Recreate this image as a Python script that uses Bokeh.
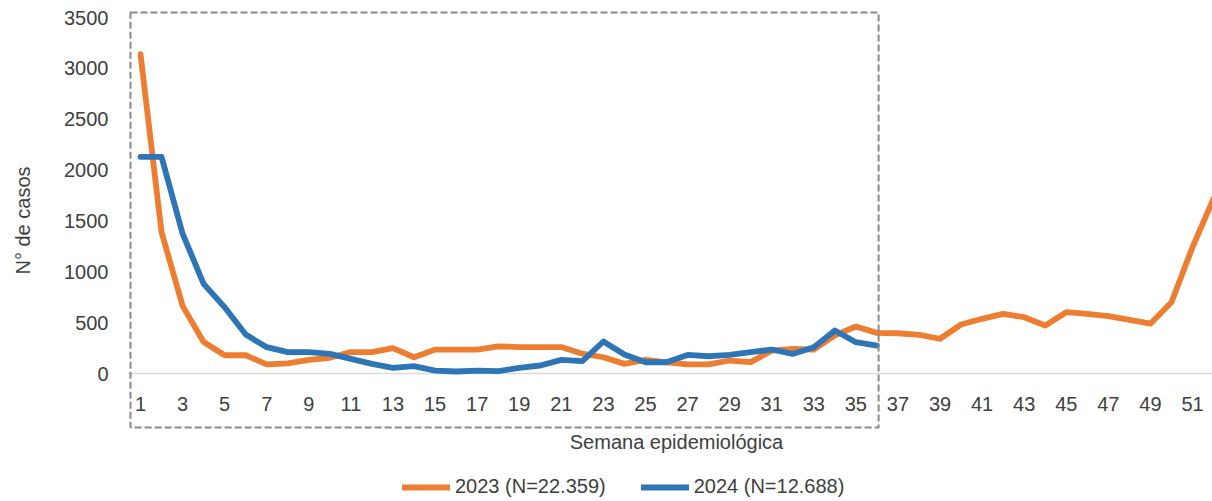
from bokeh.plotting import figure
from bokeh.layouts import column
from bokeh.models import (Range1d, FixedTicker, Legend, LegendItem, Span,
                          BoxAnnotation, Label)
from bokeh.core.properties import value
from bokeh.embed import file_html
from bokeh.resources import INLINE

weeks_2023 = list(range(1, 53))
cases_2023 = [3140, 1390, 665, 310, 180, 180, 90, 100, 135, 155, 210, 210, 250,
              160, 235, 235, 235, 268, 260, 260, 260, 195, 160, 95, 135, 110,
              90, 90, 128, 112, 225, 243, 235, 375, 462, 400, 396, 380, 342,
              482, 538, 587, 554, 472, 603, 587, 564, 528, 490, 701, 1242, 1720]
weeks_2024 = list(range(1, 37))
cases_2024 = [2130, 2130, 1375, 882, 652, 383, 259, 210, 210, 193, 144, 95, 56,
              72, 29, 20, 29, 23, 56, 79, 134, 121, 315, 187, 111, 111, 183,
              170, 183, 210, 236, 193, 259, 423, 308, 275]
label_2023 = "2023 (N=22.359)"
label_2024 = "2024 (N=12.688)"
y_ticks = [0, 500, 1000, 1500, 2000, 2500, 3000, 3500]
x_ticks = list(range(1, 53, 2))
x_title = "Semana epidemiológica"
y_title = "N° de casos"

FONT = "Liberation Sans"
TXT = "#404040"
ORANGE = "#ED7D31"
BLUE = "#2E75B6"
LEFT = 127
LW = 5.8

# ---------------- main chart ----------------
p = figure(width=1212, height=430, output_backend="svg", toolbar_location=None,
           x_range=Range1d(0.382, 51.95), y_range=Range1d(-560, 3569),
           min_border_left=LEFT, min_border_right=0, min_border_top=10,
           min_border_bottom=0)
p.outline_line_color = None
p.xgrid.visible = False
p.ygrid.visible = False
p.xaxis.visible = False

# zero baseline
p.add_layout(Span(location=0, dimension="width", line_color="#d9d9d9",
                  line_width=1.5, level="underlay"))

r1 = p.line(weeks_2023, cases_2023, line_color=ORANGE, line_width=LW,
            line_join="round", line_cap="round")
r2 = p.line(weeks_2024, cases_2024, line_color=BLUE, line_width=LW,
            line_join="round", line_cap="round")

# week labels under the zero line
p.text(x=x_ticks, y=[0] * len(x_ticks), text=[str(t) for t in x_ticks],
       y_offset=30, text_align="center", text_baseline="middle",
       text_font=value(FONT), text_font_size="20px", text_color=TXT)

# y axis
p.yaxis.ticker = FixedTicker(ticks=y_ticks)
p.yaxis.axis_line_color = None
p.yaxis.major_tick_line_color = None
p.yaxis.minor_tick_line_color = None
p.yaxis.major_label_standoff = 13
p.yaxis.major_label_text_font = FONT
p.yaxis.major_label_text_font_size = "20px"
p.yaxis.major_label_text_color = TXT
p.yaxis.axis_label = y_title
p.yaxis.axis_label_standoff = 27
p.yaxis.axis_label_text_font = FONT
p.yaxis.axis_label_text_font_size = "20px"
p.yaxis.axis_label_text_font_style = "normal"
p.yaxis.axis_label_text_color = TXT

# dashed highlight box
box = BoxAnnotation(left=0.525, right=36.08, top=3549, bottom=-531,
                    fill_alpha=0, line_color="#8a8a8a", line_alpha=1.0,
                    line_width=2, line_dash="7 3")
p.add_layout(box)

# ---------------- x title + legend strip ----------------
# frames of a column are aligned, so this strip's frame starts at LEFT too;
# its ranges are set in page pixels.
p2 = figure(width=1212, height=71, output_backend="svg", toolbar_location=None,
            x_range=Range1d(LEFT, 1212), y_range=Range1d(0, 71),
            min_border_left=LEFT, min_border_right=0, min_border_top=0,
            min_border_bottom=0, x_axis_type=None, y_axis_type=None)
p2.outline_line_color = None
p2.xgrid.visible = False
p2.ygrid.visible = False

p2.add_layout(Label(x=676, y=60, text=x_title, text_font=FONT,
                    text_font_size="20px", text_color=TXT,
                    text_align="center", text_baseline="middle"))

# legend renderers (their data lies outside this strip's ranges)
l1 = p2.line(weeks_2023, cases_2023, line_color=ORANGE, line_width=LW,
             line_cap="round")
l2 = p2.line(weeks_2024, cases_2024, line_color=BLUE, line_width=LW,
             line_cap="round")

legend = Legend(items=[LegendItem(label=label_2023, renderers=[l1]),
                       LegendItem(label=label_2024, renderers=[l2])],
                orientation="horizontal", location=(402 - LEFT, 3),
                glyph_width=48, glyph_height=22, label_standoff=5, spacing=35,
                padding=0, margin=0, border_line_color=None,
                background_fill_alpha=0, label_text_font=FONT,
                label_text_font_size="20px", label_text_color=TXT,
                label_height=22)
p2.add_layout(legend)

layout = column(p, p2, spacing=0)
open("out.html", "w").write(file_html(layout, INLINE))
